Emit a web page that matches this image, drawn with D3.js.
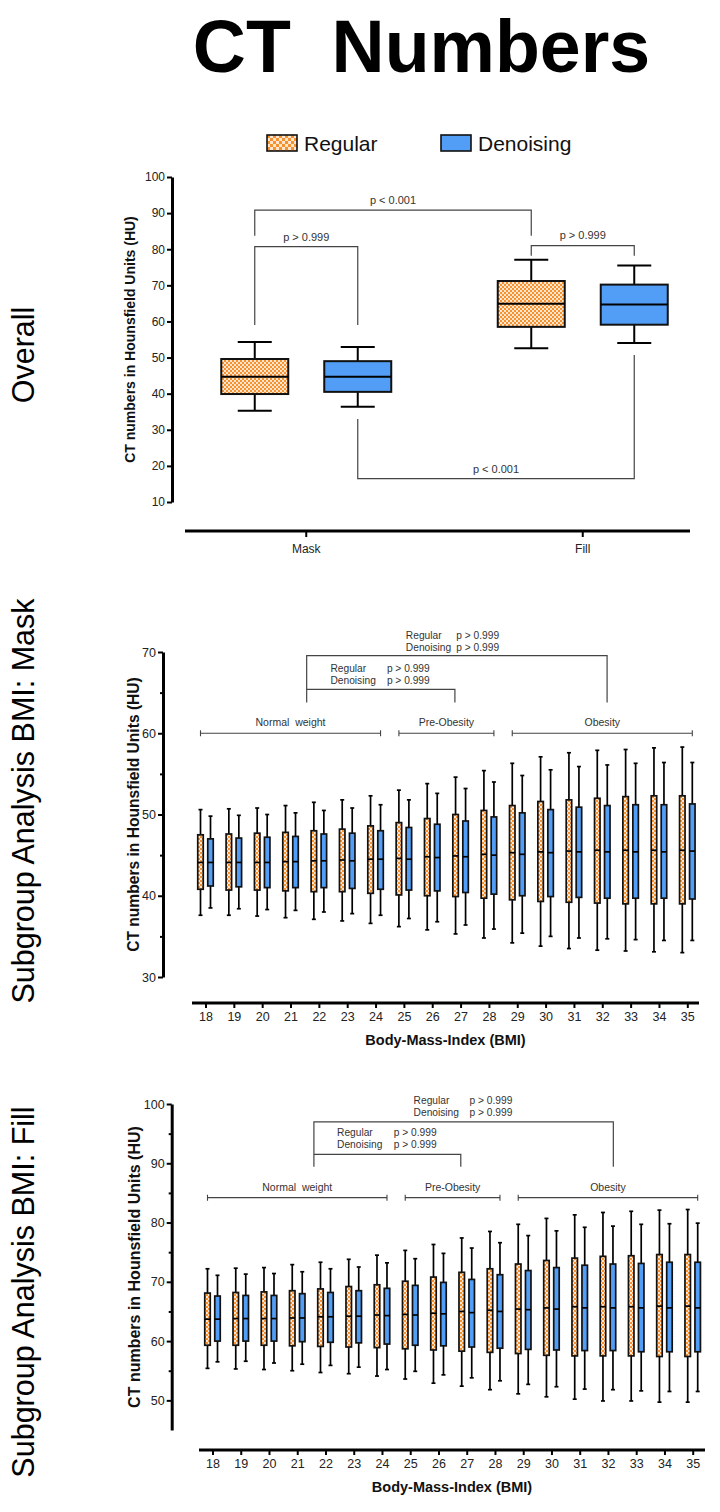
<!DOCTYPE html>
<html><head><meta charset="utf-8">
<script src="https://cdn.jsdelivr.net/npm/d3@7"></script>
<style>
body{margin:0;background:#fff}
svg{display:block;font-family:Arial,"Liberation Sans",Helvetica,sans-serif}
</style>
</head><body>
<svg id="c" width="720" height="1512"></svg>
<script>
// ---------------- DATA ----------------
const groups = ["Mask", "Fill"];
const series = ["Regular", "Denoising"];
// [low whisker, Q1, median, Q3, high whisker]
const overallRegular   = [[35.3, 39.9, 44.7, 49.6, 54.3], [52.6, 58.5, 64.9, 71.2, 77.1]];
const overallDenoising = [[36.4, 40.5, 44.7, 49.0, 52.9], [54.0, 59.1, 64.7, 70.2, 75.5]];
const overallTicks = [10, 20, 30, 40, 50, 60, 70, 80, 90, 100];

const bmi = [18, 19, 20, 21, 22, 23, 24, 25, 26, 27, 28, 29, 30, 31, 32, 33, 34, 35];

const maskRegular = [
  [37.6,40.8,44.1,47.5,50.6],[37.6,40.7,44.1,47.6,50.7],[37.5,40.7,44.1,47.7,50.8],
  [37.3,40.6,44.2,47.8,51.1],[37.1,40.5,44.3,48.0,51.5],[36.9,40.5,44.4,48.2,51.8],
  [36.6,40.3,44.5,48.6,52.3],[36.2,40.1,44.6,49.0,53.0],[35.8,40.0,44.8,49.5,53.8],
  [35.3,39.9,44.9,50.0,54.6],[34.8,39.7,45.1,50.5,55.4],[34.2,39.5,45.3,51.1,56.3],
  [33.8,39.3,45.4,51.6,57.1],[33.5,39.2,45.5,51.8,57.6],[33.3,39.1,45.6,52.0,57.9],
  [33.2,39.0,45.6,52.2,58.0],[33.1,39.0,45.6,52.3,58.2],[33.0,39.0,45.6,52.3,58.3]
];
const maskDenoising = [
  [38.5,41.2,44.1,47.0,49.8],[38.4,41.1,44.1,47.1,49.9],[38.3,41.0,44.1,47.2,50.0],
  [38.2,41.0,44.2,47.3,50.2],[38.0,41.0,44.3,47.6,50.5],[37.8,40.9,44.3,47.7,50.8],
  [37.6,40.8,44.5,48.0,51.2],[37.2,40.7,44.5,48.4,51.8],[36.8,40.6,44.7,48.8,52.6],
  [36.4,40.4,44.8,49.2,53.2],[35.9,40.2,45.0,49.7,54.0],[35.4,40.0,45.1,50.2,54.8],
  [35.0,39.9,45.3,50.6,55.5],[34.8,39.8,45.4,50.9,55.9],[34.7,39.7,45.4,51.1,56.1],
  [34.6,39.7,45.4,51.2,56.3],[34.5,39.7,45.4,51.2,56.4],[34.5,39.6,45.5,51.3,56.4]
];
const fillRegular = [
  [55.4,59.3,63.7,68.1,72.2],[55.3,59.3,63.8,68.2,72.3],[55.2,59.3,63.8,68.3,72.4],
  [55.0,59.2,63.9,68.5,72.9],[54.7,59.1,64.1,68.8,73.3],[54.5,59.0,64.2,69.2,73.8],
  [54.1,58.9,64.4,69.5,74.5],[53.6,58.7,64.5,70.1,75.3],[52.9,58.5,64.7,70.8,76.3],
  [52.4,58.3,65.0,71.6,77.4],[51.8,58.1,65.2,72.2,78.5],[51.1,57.9,65.4,73.0,79.7],
  [50.6,57.6,65.6,73.6,80.7],[50.2,57.5,65.8,74.0,81.3],[49.9,57.5,65.8,74.3,81.7],
  [49.9,57.5,65.8,74.4,81.9],[49.7,57.4,65.9,74.6,82.1],[49.7,57.4,65.9,74.6,82.2]
];
const fillDenoising = [
  [56.5,60.0,63.7,67.6,71.1],[56.6,60.0,63.8,67.7,71.3],[56.3,60.0,63.8,67.7,71.4],
  [56.1,59.9,63.9,68.0,71.7],[55.9,59.8,64.1,68.2,72.2],[55.6,59.7,64.2,68.5,72.5],
  [55.2,59.5,64.3,68.9,73.2],[54.9,59.3,64.4,69.4,73.9],[54.3,59.2,64.6,69.9,74.8],
  [53.8,59.0,64.8,70.4,75.7],[53.3,58.8,65.0,71.2,76.6],[52.7,58.6,65.3,71.9,77.8],
  [52.3,58.5,65.4,72.4,78.6],[51.9,58.4,65.6,72.8,79.2],[51.8,58.4,65.6,73.0,79.4],
  [51.6,58.2,65.6,73.1,79.7],[51.5,58.2,65.6,73.3,79.8],[51.5,58.2,65.6,73.3,79.9]
];
const maskTicks = [30, 40, 50, 60, 70];
const maskMinorTicks = [35, 45, 55, 65];
const fillTicks = [50, 60, 70, 80, 90, 100];
const fillMinorTicks = [55, 65, 75, 85, 95];

const bmiCategories = [
  {name: "Normal  weight", from: 18, to: 24},
  {name: "Pre-Obesity", from: 25, to: 28},
  {name: "Obesity", from: 29, to: 35}
];
const pText = "p > 0.999";

// ---------------- DRAW ----------------
const svg = d3.select("#c");
const defs = svg.append("defs");
function makePattern(id, s) {
  const p = defs.append("pattern").attr("id", id)
    .attr("patternUnits", "userSpaceOnUse").attr("width", 2 * s).attr("height", 2 * s);
  p.append("rect").attr("width", 2 * s).attr("height", 2 * s).attr("fill", "#FFE6CC");
  p.append("rect").attr("width", s).attr("height", s).attr("fill", "#F5922F");
  p.append("rect").attr("x", s).attr("y", s).attr("width", s).attr("height", s).attr("fill", "#F5922F");
}
makePattern("chk", 2);
makePattern("chkL", 3);
const fillOf = {Regular: "url(#chk)", Denoising: "#529EF6"};
const BOX_STROKE = "#111";

// Title
svg.append("text").attr("x", 421.5).attr("y", 72).attr("text-anchor", "middle")
  .attr("font-size", 73.5).attr("font-weight", "bold").style("white-space", "pre")
  .text("CT  Numbers");

// Row labels
[["Overall", 355], ["Subgroup Analysis BMI: Mask", 801], ["Subgroup Analysis BMI: Fill", 1292]]
  .forEach(([t, cy]) => {
    svg.append("text").attr("transform", `translate(34,${cy}) rotate(-90)`)
      .attr("text-anchor", "middle").attr("font-size", 30.5).attr("fill", "#000").text(t);
  });

// Legend
const legend = svg.append("g");
[["Regular", 267, "url(#chkL)"], ["Denoising", 441, "#529EF6"]].forEach(([t, x, f]) => {
  legend.append("rect").attr("x", x).attr("y", 135).attr("width", 30).attr("height", 16)
    .attr("fill", f).attr("stroke", "#111").attr("stroke-width", 1.6);
  legend.append("text").attr("x", x + 37).attr("y", 151).attr("font-size", 21).attr("fill", "#111").text(t);
});

function styleAxis(g, w) {
  g.select(".domain").attr("stroke", "#000").attr("stroke-width", w);
  g.selectAll(".tick line").attr("stroke", "#000").attr("stroke-width", 2);
  g.selectAll(".tick text").attr("fill", "#222").attr("font-family", "Arial,'Liberation Sans',sans-serif");
}

function drawBox(g, cx, d, y, bw, capW, fill, sw) {
  const [lo, q1, med, q3, hi] = d;
  g.append("line").attr("x1", cx).attr("x2", cx).attr("y1", y(hi)).attr("y2", y(q3))
    .attr("stroke", "#000").attr("stroke-width", sw);
  g.append("line").attr("x1", cx).attr("x2", cx).attr("y1", y(q1)).attr("y2", y(lo))
    .attr("stroke", "#000").attr("stroke-width", sw);
  [lo, hi].forEach(v => g.append("line").attr("x1", cx - capW / 2).attr("x2", cx + capW / 2)
    .attr("y1", y(v)).attr("y2", y(v)).attr("stroke", "#000").attr("stroke-width", sw));
  g.append("rect").attr("x", cx - bw / 2).attr("width", bw).attr("y", y(q3)).attr("height", y(q1) - y(q3))
    .attr("fill", fill).attr("stroke", BOX_STROKE).attr("stroke-width", sw);
  g.append("line").attr("x1", cx - bw / 2).attr("x2", cx + bw / 2).attr("y1", y(med)).attr("y2", y(med))
    .attr("stroke", "#000").attr("stroke-width", sw);
}

// ---------- Panel 1: Overall ----------
{
  const y = d3.scaleLinear().domain([10, 100]).range([502, 177]);
  const x = d3.scaleBand().domain(groups).range([168, 721]);
  const sub = d3.scalePoint().domain(series).range([-51.5, 51.5]);
  const cx = (gname, s) => x(gname) + x.bandwidth() / 2 + sub(s);
  const g = svg.append("g");

  const ya = g.append("g").attr("transform", "translate(172,0)")
    .call(d3.axisLeft(y).tickValues(overallTicks).tickSize(5).tickSizeOuter(0).tickPadding(2));
  ya.selectAll("text").attr("font-size", 12);
  styleAxis(ya, 3);

  const xa = g.append("g").attr("transform", "translate(0,531)")
    .call(d3.axisBottom(x).tickSize(6).tickSizeOuter(0).tickPadding(7));
  xa.select(".domain").attr("d", "M185,0H690");
  xa.selectAll("text").attr("font-size", 12);
  styleAxis(xa, 3);

  g.append("text").attr("transform", "translate(135,339.5) rotate(-90)").attr("text-anchor", "middle")
    .attr("font-size", 14).attr("font-weight", "bold").attr("fill", "#111")
    .text("CT numbers in Hounsfield Units (HU)");

  groups.forEach((gn, i) => {
    drawBox(g, cx(gn, "Regular"), overallRegular[i], y, 67, 34, fillOf.Regular, 2);
    drawBox(g, cx(gn, "Denoising"), overallDenoising[i], y, 67, 34, fillOf.Denoising, 2);
  });

  // significance brackets
  const br = [
    {a: ["Mask", "Regular"], b: ["Fill", "Regular"], ya: 83.7, yb: 83.7, h: 90.8, t: "p < 0.001", ty: 92.4},
    {a: ["Mask", "Regular"], b: ["Mask", "Denoising"], ya: 59.0, yb: 59.0, h: 80.7, t: "p > 0.999", ty: 82.4},
    {a: ["Fill", "Regular"], b: ["Fill", "Denoising"], ya: 78.2, yb: 78.2, h: 81.0, t: "p > 0.999", ty: 82.8},
    {a: ["Mask", "Denoising"], b: ["Fill", "Denoising"], ya: 33.0, yb: 50.7, h: 16.5, t: "p < 0.001", ty: 18.0}
  ];
  br.forEach(b => {
    const x1 = cx(...b.a), x2 = cx(...b.b);
    g.append("path").attr("d", `M${x1},${y(b.ya)}V${y(b.h)}H${x2}V${y(b.yb)}`)
      .attr("fill", "none").attr("stroke", "#444").attr("stroke-width", 1.2);
    g.append("text").attr("x", (x1 + x2) / 2).attr("y", y(b.ty)).attr("text-anchor", "middle")
      .attr("font-size", 11).attr("fill", "#333").text(b.t);
  });
}

// ---------- BMI panels ----------
function drawBMI(cfg) {
  const y = d3.scaleLinear().domain(cfg.yDomain).range(cfg.yRange);
  const x = d3.scaleLinear().domain([18, 35]).range(cfg.xRange);
  const sub = d3.scalePoint().domain(series).range([-5, 5]);
  const g = svg.append("g");

  const ya = g.append("g").attr("transform", `translate(${cfg.axisX},0)`)
    .call(d3.axisLeft(y).tickValues(cfg.ticks).tickSize(5).tickSizeOuter(0).tickPadding(2));
  ya.selectAll("text").attr("font-size", 12.5);
  styleAxis(ya, 3);
  const ym = g.append("g").attr("transform", `translate(${cfg.axisX},0)`)
    .call(d3.axisLeft(y).tickValues(cfg.minor).tickSize(3).tickFormat(""));
  ym.select(".domain").remove();
  ym.selectAll(".tick line").attr("stroke", "#000").attr("stroke-width", 2);

  g.append("text").attr("transform", `translate(${cfg.titleX},${(cfg.yRange[0] + cfg.yRange[1]) / 2}) rotate(-90)`)
    .attr("text-anchor", "middle").attr("font-size", cfg.titleSize).attr("font-weight", "bold").attr("fill", "#111")
    .text("CT numbers in Hounsfield Units (HU)");

  const xa = g.append("g").attr("transform", `translate(0,${cfg.xAxisY})`)
    .call(d3.axisBottom(x).tickValues(bmi).tickFormat(d3.format("d")).tickSize(5).tickSizeOuter(0).tickPadding(4));
  xa.select(".domain").attr("d", `M${cfg.xLine[0]},0H${cfg.xLine[1]}`);
  xa.selectAll("text").attr("font-size", 12.5);
  styleAxis(xa, 3);
  g.append("text").attr("x", (cfg.xLine[0] + cfg.xLine[1]) / 2).attr("y", cfg.xAxisY + 42)
    .attr("text-anchor", "middle").attr("font-size", 14.5).attr("font-weight", "bold").attr("fill", "#111")
    .text("Body-Mass-Index (BMI)");

  bmi.forEach((b, i) => {
    drawBox(g, x(b) + sub("Regular"), cfg.reg[i], y, 5.5, 4, fillOf.Regular, 1.7);
    drawBox(g, x(b) + sub("Denoising"), cfg.den[i], y, 5.5, 4, fillOf.Denoising, 1.7);
  });

  // category brackets
  bmiCategories.forEach(c => {
    const x1 = x(c.from) + sub("Regular"), x2 = x(c.to) + sub("Denoising"), yy = y(cfg.catY);
    g.append("path").attr("d", `M${x1},${yy - 3}V${yy + 3}M${x1},${yy}H${x2}M${x2},${yy - 3}V${yy + 3}`)
      .attr("fill", "none").attr("stroke", "#444").attr("stroke-width", 1.1);
    g.append("text").attr("x", (x1 + x2) / 2).attr("y", yy - 7).attr("text-anchor", "middle")
      .style("white-space", "pre")
      .attr("font-size", 10.5).attr("fill", "#333").text(c.name);
  });

  // significance brackets
  const s = cfg.sig;
  g.append("path").attr("d", `M${x(s.xs[0])},${y(s.legBottom)}V${y(s.outerY)}H${x(s.xs[2])}V${y(s.legBottom)}`)
    .attr("fill", "none").attr("stroke", "#444").attr("stroke-width", 1.2);
  g.append("path").attr("d", `M${x(s.xs[0])},${y(s.innerY)}H${x(s.xs[1])}V${y(s.legBottom)}`)
    .attr("fill", "none").attr("stroke", "#444").attr("stroke-width", 1.2);
  const txt = (tx, ty, t) => g.append("text").attr("x", x(tx)).attr("y", y(ty) + 4)
    .attr("font-size", 10.2).attr("fill", "#333").text(t);
  txt(s.outerText[0], s.outerLines[0], "Regular");
  txt(s.outerText[0], s.outerLines[1], "Denoising");
  txt(s.outerText[1], s.outerLines[0], pText);
  txt(s.outerText[1], s.outerLines[1], pText);
  txt(s.innerText[0], s.innerLines[0], "Regular");
  txt(s.innerText[0], s.innerLines[1], "Denoising");
  txt(s.innerText[1], s.innerLines[0], pText);
  txt(s.innerText[1], s.innerLines[1], pText);
}

drawBMI({
  yDomain: [30, 70], yRange: [977, 652], ticks: maskTicks, minor: maskMinorTicks,
  axisX: 163, xRange: [205.5, 687.3], xAxisY: 1003, xLine: [192, 699],
  titleX: 139, titleSize: 15.6,
  reg: maskRegular, den: maskDenoising, catY: 60,
  sig: {xs: [21.57, 26.8, 32.17], outerY: 69.55, innerY: 65.4, legBottom: 63.8,
        outerText: [25.07, 26.85], outerLines: [72.1, 70.6],
        innerText: [22.41, 24.4], innerLines: [68.0, 66.5]}
});

drawBMI({
  yDomain: [45, 100], yRange: [1430, 1104], ticks: fillTicks, minor: fillMinorTicks,
  axisX: 171.7, xRange: [212.5, 692.7], xAxisY: 1450, xLine: [199, 705],
  titleX: 140, titleSize: 16,
  reg: fillRegular, den: fillDenoising, catY: 84.2,
  sig: {xs: [21.59, 26.79, 32.19], outerY: 97.0, innerY: 91.5, legBottom: 89.4,
        outerText: [25.12, 27.1], outerLines: [100.7, 98.7],
        innerText: [22.41, 24.42], innerLines: [95.2, 93.2]}
});
</script>
</body></html>
